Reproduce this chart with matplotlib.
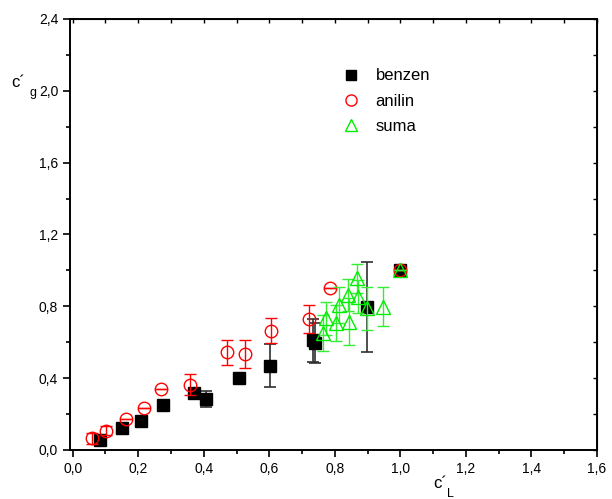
import matplotlib
matplotlib.use("Agg")
import matplotlib.pyplot as plt
from matplotlib.lines import Line2D
from matplotlib.ticker import MultipleLocator, FuncFormatter

plt.rcParams["font.family"] = ["Liberation Sans", "DejaVu Sans"]

# benzen (black squares)
benzen_x = [0.083, 0.151, 0.21, 0.276, 0.369, 0.407, 0.509, 0.603, 0.732, 0.74, 0.898, 1.0]
benzen_y = [0.056, 0.12, 0.16, 0.25, 0.317, 0.286, 0.40, 0.468, 0.61, 0.597, 0.794, 1.0]
benzen_err = [0.0, 0.0, 0.0, 0.0, 0.0, 0.045, 0.0, 0.12, 0.12, 0.11, 0.25, 0.0]

# anilin (red circles)
anilin_x = [0.058, 0.103, 0.164, 0.217, 0.269, 0.357, 0.471, 0.525, 0.604, 0.72, 0.785, 1.0]
anilin_y = [0.065, 0.106, 0.17, 0.232, 0.34, 0.364, 0.544, 0.533, 0.664, 0.728, 0.90, 1.0]
anilin_err = [0.03, 0.025, 0.0, 0.0, 0.0, 0.06, 0.07, 0.078, 0.071, 0.079, 0.0, 0.0]

# suma (green triangles)
suma_x = [0.763, 0.773, 0.804, 0.814, 0.842, 0.839, 0.87, 0.868, 0.897, 0.948, 1.0]
suma_y = [0.65, 0.733, 0.705, 0.807, 0.714, 0.863, 0.854, 0.956, 0.789, 0.798, 1.0]
suma_err = [0.1, 0.09, 0.1, 0.1, 0.13, 0.09, 0.09, 0.08, 0.12, 0.11, 0.0]


def comma(v, pos):
    return f"{v:.1f}".replace(".", ",")


fig = plt.figure(figsize=(6.12, 4.99), dpi=100)
ax = fig.add_axes([0.1144, 0.0982, 0.8611, 0.8638])

ax.errorbar(benzen_x, benzen_y, yerr=benzen_err, fmt="s", color="black",
            ecolor="#303030", elinewidth=1.2, capsize=4, capthick=1.2,
            markersize=8.5, zorder=3)
ax.errorbar(anilin_x, anilin_y, yerr=anilin_err, fmt="o", mfc="none",
            mec="#ff0000", mew=1.0, ecolor="#ff0000", elinewidth=1.0,
            capsize=4, capthick=1.0, markersize=9, zorder=4)
ax.errorbar(suma_x, suma_y, yerr=suma_err, fmt="^", mfc="none",
            mec="#00ee00", mew=1.0, ecolor="#33ee33", elinewidth=1.0,
            capsize=4, capthick=1.0, markersize=10, zorder=5)

ax.set_xlim(-0.008, 1.6)
ax.set_ylim(0, 2.4)
ax.xaxis.set_major_locator(MultipleLocator(0.2))
ax.xaxis.set_minor_locator(MultipleLocator(0.1))
ax.yaxis.set_major_locator(MultipleLocator(0.4))
ax.yaxis.set_minor_locator(MultipleLocator(0.2))
ax.xaxis.set_major_formatter(FuncFormatter(comma))
ax.yaxis.set_major_formatter(FuncFormatter(comma))
ax.tick_params(which="both", direction="out", labelsize=10, width=1.2)
ax.tick_params(which="major", length=5)
ax.tick_params(which="minor", length=3)
for s in ax.spines.values():
    s.set_linewidth(1.4)

# inward ticks on top and right
top = ax.secondary_xaxis("top")
top.xaxis.set_major_locator(MultipleLocator(0.1))
top.tick_params(direction="in", length=3, width=1.0, labeltop=False)
right = ax.secondary_yaxis("right")
right.yaxis.set_major_locator(MultipleLocator(0.2))
right.tick_params(direction="in", length=3, width=1.0, labelright=False)

handles = [
    Line2D([], [], ls="none", marker="s", color="black", markersize=7),
    Line2D([], [], ls="none", marker="o", mfc="none", mec="#ff0000", markersize=8),
    Line2D([], [], ls="none", marker="^", mfc="none", mec="#00ee00", markersize=9),
]
ax.legend(handles, ["benzen", "anilin", "suma"], loc="upper left",
          bbox_to_anchor=(0.485, 0.92), frameon=False, fontsize=12,
          handletextpad=0.9, labelspacing=0.62, handlelength=1.2)

fig.text(0.018, 0.825, "c´", fontsize=12)
fig.text(0.048, 0.808, "g", fontsize=9)
fig.text(0.708, 0.022, "c´", fontsize=12)
fig.text(0.730, 0.005, "L", fontsize=9)

fig.savefig("out.png", dpi=100)
